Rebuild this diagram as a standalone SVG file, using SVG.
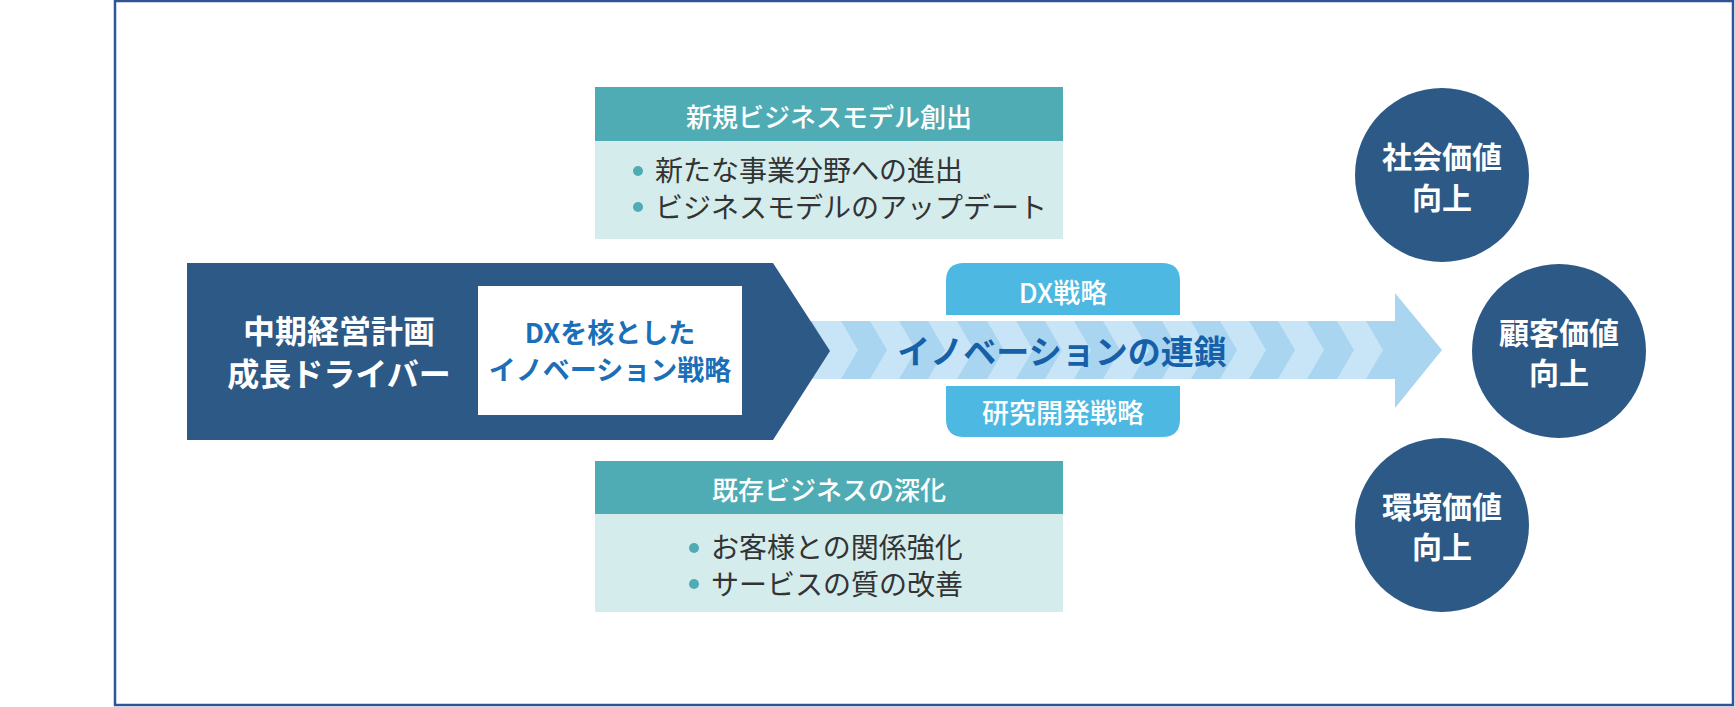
<svg xmlns="http://www.w3.org/2000/svg" width="1735" height="707" viewBox="0 0 1735 707">
<style>
text{font-family:"Noto Sans CJK JP","Noto Sans CJK SC",sans-serif;text-anchor:middle;dominant-baseline:central}
.navy{fill:#2C5985}
.wt{fill:#ffffff;font-weight:bold}
.hdr{fill:#4FACB4}
.body{fill:#D5ECEC}
.hdrt{fill:#ffffff;font-size:26px;font-weight:500}
.bul{fill:#333333;font-size:28px;text-anchor:start}
.dot{fill:#4FACB4}
.tab{fill:#4DB8E2}
.tabt{fill:#ffffff;font-size:27px;font-weight:500}
.lt{fill:#C8E5F7}
.dk{fill:#AAD5F0}
</style>
<rect x="115" y="1" width="1618" height="704" fill="#ffffff" stroke="#2F5597" stroke-width="2.5"/>

<g id="connectors">
  <g id="chain-arrow">
    <rect class="dk" x="790" y="321" width="606" height="58"/>
    <polygon class="dk" points="1395,293 1442,350 1395,408"/>
    <g class="lt">
      <polygon points="812,321 841,321 858,350 841,379 812,379 829,350"/>
      <polygon points="870,321 899,321 916,350 899,379 870,379 887,350"/>
      <polygon points="928,321 957,321 974,350 957,379 928,379 945,350"/>
      <polygon points="987,321 1016,321 1033,350 1016,379 987,379 1004,350"/>
      <polygon points="1045,321 1074,321 1091,350 1074,379 1045,379 1062,350"/>
      <polygon points="1103,321 1132,321 1149,350 1132,379 1103,379 1120,350"/>
      <polygon points="1162,321 1191,321 1208,350 1191,379 1162,379 1179,350"/>
      <polygon points="1220,321 1249,321 1266,350 1249,379 1220,379 1237,350"/>
      <polygon points="1278,321 1307,321 1324,350 1307,379 1278,379 1295,350"/>
      <polygon points="1337,321 1366,321 1383,350 1366,379 1337,379 1354,350"/>
    </g>
  </g>
</g>

<g id="driver">
  <polygon class="navy" points="187,263 773,263 830,351 773,440 187,440"/>
  <text class="wt" x="339" y="329" font-size="32">中期経営計画</text>
  <text class="wt" x="339" y="372" font-size="32">成長ドライバー</text>
</g>

<g id="dx-core">
  <rect x="478" y="286" width="264" height="129" fill="#ffffff"/>
  <text x="610" y="331" font-size="27" font-weight="bold" fill="#1A6FB8">DXを核とした</text>
  <text x="610" y="368" font-size="27" font-weight="bold" fill="#1A6FB8">イノベーション戦略</text>
</g>

<g id="chain-label">
  <text x="1062" y="350" font-size="33" font-weight="bold" fill="#1560A8">イノベーションの連鎖</text>
</g>

<g id="dx-strategy">
  <path class="tab" d="M946,315 V281 Q946,263 964,263 H1162 Q1180,263 1180,281 V315 Z"/>
  <text class="tabt" x="1063" y="291">DX戦略</text>
</g>

<g id="rd-strategy">
  <path class="tab" d="M946,386 H1180 V419 Q1180,437 1162,437 H964 Q946,437 946,419 Z"/>
  <text class="tabt" x="1063" y="411">研究開発戦略</text>
</g>

<g id="new-business">
  <rect class="hdr" x="595" y="87" width="468" height="54"/>
  <rect class="body" x="595" y="141" width="468" height="98"/>
  <text class="hdrt" x="829" y="115">新規ビジネスモデル創出</text>
  <circle class="dot" cx="638" cy="171" r="5"/>
  <text class="bul" x="655" y="169">新たな事業分野への進出</text>
  <circle class="dot" cx="638" cy="207" r="5"/>
  <text class="bul" x="655" y="206">ビジネスモデルのアップデート</text>
</g>

<g id="existing-business">
  <rect class="hdr" x="595" y="461" width="468" height="53"/>
  <rect class="body" x="595" y="514" width="468" height="98"/>
  <text class="hdrt" x="829" y="488">既存ビジネスの深化</text>
  <circle class="dot" cx="694" cy="548" r="5"/>
  <text class="bul" x="711" y="546">お客様との関係強化</text>
  <circle class="dot" cx="694" cy="584" r="5"/>
  <text class="bul" x="711" y="583">サービスの質の改善</text>
</g>

<g id="social-value">
  <circle class="navy" cx="1442" cy="175" r="87"/>
  <text class="wt" x="1442" y="155" font-size="30">社会価値</text>
  <text class="wt" x="1442" y="196" font-size="30">向上</text>
</g>

<g id="customer-value">
  <circle class="navy" cx="1559" cy="351" r="87"/>
  <text class="wt" x="1559" y="331" font-size="30">顧客価値</text>
  <text class="wt" x="1559" y="371" font-size="30">向上</text>
</g>

<g id="environment-value">
  <circle class="navy" cx="1442" cy="525" r="87"/>
  <text class="wt" x="1442" y="505" font-size="30">環境価値</text>
  <text class="wt" x="1442" y="545" font-size="30">向上</text>
</g>
</svg>
